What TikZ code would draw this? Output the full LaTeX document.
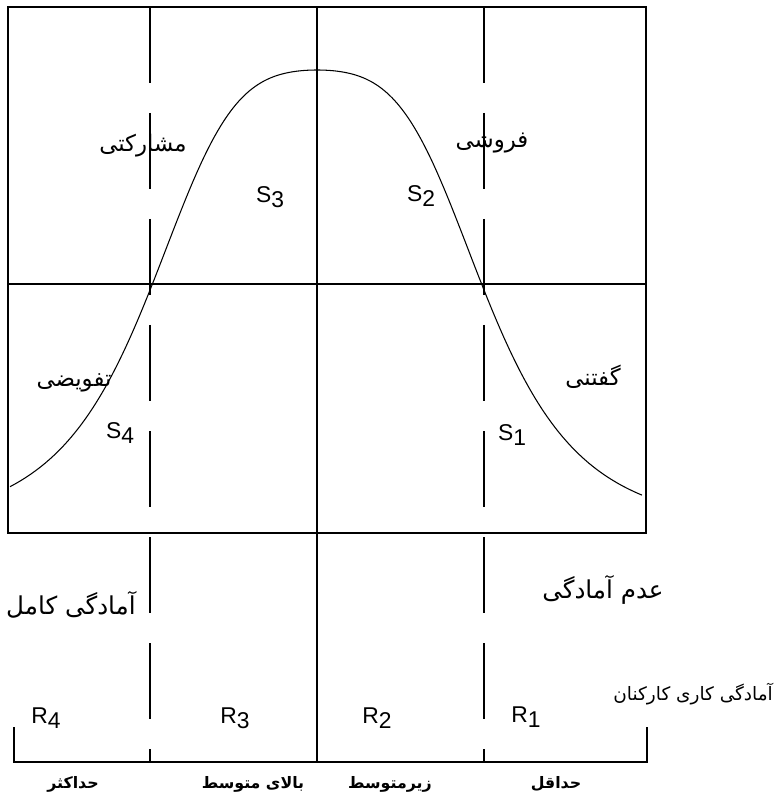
\documentclass[tikz,border=0pt]{standalone}
\usepackage{fontspec}
\setmainfont{Liberation Sans}
\newfontfamily\fa[Script=Arabic]{DejaVu Sans}
\TeXXeTstate=1

\begin{document}
\begin{tikzpicture}[
    thin line/.style={line width=0.6pt},
    gapline/.style={line width=0.6pt, dash pattern=on 1.52cm off 0.6cm},
    lab/.style={font=\fontsize{13}{15}\selectfont},
    farsi/.style={font=\fa\fontsize{13}{16}\selectfont},
    farsibig/.style={font=\fa\fontsize{14}{17}\selectfont},
    farsibold/.style={font=\fa\bfseries\fontsize{9}{11}\selectfont}
]
    \useasboundingbox (-0.16,-5.30) rectangle (15.46,10.66);

    % 外框
    \draw[line width=1pt] (0,0) rectangle (12.76,10.52);
    \draw[thin line] (0,4.98) -- (12.76,4.98);

    % 分隔线
    \draw[thin line] (6.18,10.52) -- (6.18,-4.58);
    \draw[gapline] (2.84,10.52) -- (2.84,-4.58);
    \draw[gapline] (9.52,10.52) -- (9.52,-4.58);

    % 底线
    \draw[thin line] (0.12,-3.88) -- (0.12,-4.58) -- (12.78,-4.58) -- (12.78,-3.88);

    % 曲线
    \draw[thin line] plot[domain=-6.14:6.5, samples=120, smooth]
        ({6.18+\x},{9.26/(1+0.015*\x*\x+0.0059375*\x*\x*\x*\x)});

    % 风格
    \node[farsi] (mosharekati) at (2.70,7.74) {\beginR مشارکتی\endR};
    \node[farsi] (foroushi) at (9.68,7.80) {\beginR فروشی\endR};
    \node[farsi] (tafvizi) at (1.32,3.00) {\beginR تفویضی\endR};
    \node[farsi] (gofteni) at (11.70,3.12) {\beginR گفتنی\endR};
    \node[lab] (s3) at (5.24,6.72) {S\raisebox{-3pt}{3}};
    \node[lab] (s2) at (8.26,6.74) {S\raisebox{-3pt}{2}};
    \node[lab] (s4) at (2.24,2.00) {S\raisebox{-3pt}{4}};
    \node[lab] (s1) at (10.08,1.96) {S\raisebox{-3pt}{1}};

    % 准备程度
    \node[farsibig] (kamel) at (1.26,-1.44) {\beginR آمادگی کامل\endR};
    \node[farsibig] (adam) at (11.90,-1.14) {\beginR عدم آمادگی\endR};
    \node[farsi, font=\fa\fontsize{10.5}{13}\selectfont, anchor=east] (karkonan)
        at (15.42,-3.22) {\beginR آمادگی کاری کارکنان\endR};
    \node[lab] (r4) at (0.76,-3.70) {R\raisebox{-3pt}{4}};
    \node[lab] (r3) at (4.54,-3.70) {R\raisebox{-3pt}{3}};
    \node[lab] (r2) at (7.38,-3.70) {R\raisebox{-3pt}{2}};
    \node[lab] (r1) at (10.36,-3.68) {R\raisebox{-3pt}{1}};

    % 底部标签
    \node[farsibold] (hadaksar) at (1.30,-5.02) {\beginR حداکثر\endR};
    \node[farsibold] (bala) at (4.90,-5.02) {\beginR بالای متوسط\endR};
    \node[farsibold] (zir) at (7.64,-5.02) {\beginR زیرمتوسط\endR};
    \node[farsibold] (hadaghal) at (10.96,-5.02) {\beginR حداقل\endR};
\end{tikzpicture}
\end{document}
